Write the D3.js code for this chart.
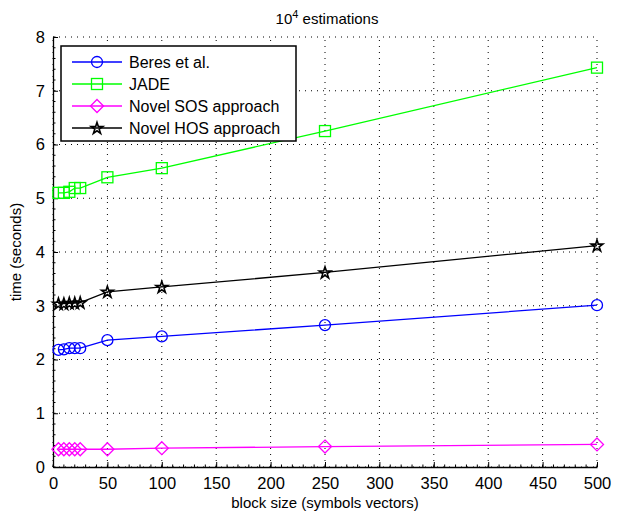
<!DOCTYPE html>
<html>
<head>
<meta charset="utf-8">
<script src="https://cdn.jsdelivr.net/npm/d3@7"></script>
<style>
  body { margin: 0; background: #fff; }
  text { font-family: "Liberation Sans", Arial, sans-serif; fill: #000; }
</style>
</head>
<body>
<svg id="chart" width="624" height="514"></svg>
<script>
var blockSizes = [5, 10, 15, 20, 25, 50, 100, 250, 500];
var beres = [2.18, 2.19, 2.21, 2.21, 2.21, 2.36, 2.43, 2.64, 3.01];
var jade  = [5.10, 5.10, 5.12, 5.19, 5.19, 5.39, 5.56, 6.25, 7.43];
var sos   = [0.33, 0.33, 0.33, 0.33, 0.33, 0.33, 0.35, 0.38, 0.42];
var hos   = [3.04, 3.04, 3.05, 3.05, 3.06, 3.26, 3.35, 3.62, 4.12];
var seriesNames = ["Beres et al.", "JADE", "Novel SOS approach", "Novel HOS approach"];
var seriesColors = ["#0000ff", "#00ff00", "#ff00ff", "#000000"];
var seriesMarkers = ["circle", "square", "diamond", "star"];
var xTicks = d3.range(0, 501, 50);
var yTicks = d3.range(0, 9, 1);

var svg = d3.select("#chart");
var plotL = 53, plotR = 597, plotT = 37, plotB = 467;

var x = d3.scaleLinear().domain([0, 500]).range([plotL, plotR]);
var y = d3.scaleLinear().domain([0, 8]).range([plotB, plotT]);

// dotted grid
var grid = svg.append("g");
grid.selectAll(".gx").data(xTicks).enter().append("line")
    .attr("x1", d => x(d)).attr("x2", d => x(d))
    .attr("y1", plotB).attr("y2", plotT)
    .style("stroke", "#000").style("stroke-width", 1)
    .style("stroke-dasharray", "1,5");
grid.selectAll(".gy").data(yTicks).enter().append("line")
    .attr("x1", plotL).attr("x2", plotR)
    .attr("y1", d => y(d)).attr("y2", d => y(d))
    .style("stroke", "#000").style("stroke-width", 1)
    .style("stroke-dasharray", "1,5");

// axes
var xAxis = svg.append("g").attr("transform", "translate(0," + plotB + ")")
    .call(d3.axisBottom(x).tickValues(xTicks).tickSizeInner(-5).tickSizeOuter(0).tickPadding(10));
var yAxis = svg.append("g").attr("transform", "translate(" + plotL + ",0)")
    .call(d3.axisLeft(y).tickValues(yTicks).tickSizeInner(-5).tickSizeOuter(0).tickPadding(8));
[xAxis, yAxis].forEach(function(a) {
    a.select(".domain").style("stroke", "#000").style("stroke-width", 1.3);
    a.selectAll(".tick line").style("stroke", "#000");
    a.selectAll("text").style("font-size", "16.5px").style("font-family", "Liberation Sans, Arial, sans-serif");
});
// minor ticks
svg.append("g").selectAll("line").data(d3.range(0, 501, 10)).enter().append("line")
    .attr("x1", d => x(d)).attr("x2", d => x(d))
    .attr("y1", plotB).attr("y2", plotB - 2.5)
    .style("stroke", "#000");
svg.append("g").selectAll("line").data(d3.range(0, 8.01, 0.2)).enter().append("line")
    .attr("x1", plotL).attr("x2", plotL + 2.5)
    .attr("y1", d => y(d)).attr("y2", d => y(d))
    .style("stroke", "#000");

// markers
function drawMarker(g, type, cx, cy, color) {
    if (type === "circle") {
        g.append("circle").attr("cx", cx).attr("cy", cy).attr("r", 5.5)
            .style("fill", "none").style("stroke", color).style("stroke-width", 1.3);
    } else if (type === "square") {
        g.append("rect").attr("x", cx - 5.5).attr("y", cy - 5.5).attr("width", 11).attr("height", 11)
            .style("fill", "none").style("stroke", color).style("stroke-width", 1.3);
    } else if (type === "diamond") {
        g.append("path").attr("d", "M" + cx + "," + (cy - 6.5) + "L" + (cx + 6.5) + "," + cy +
                "L" + cx + "," + (cy + 6.5) + "L" + (cx - 6.5) + "," + cy + "Z")
            .style("fill", "none").style("stroke", color).style("stroke-width", 1.3);
    } else {
        g.append("path").attr("d", d3.symbol(d3.symbolStar, 42)())
            .attr("transform", "translate(" + cx + "," + (cy + 0.5) + ")")
            .style("fill", "none").style("stroke", color).style("stroke-width", 1.6);
    }
}

var allSeries = [beres, jade, sos, hos];
var line = d3.line().x((d, i) => x(blockSizes[i])).y(d => y(d));
allSeries.forEach(function(vals, k) {
    var g = svg.append("g");
    g.append("path").datum(vals).attr("d", line)
        .style("fill", "none").style("stroke", seriesColors[k]).style("stroke-width", 1.3);
    vals.forEach(function(v, i) {
        drawMarker(g, seriesMarkers[k], x(blockSizes[i]), y(v), seriesColors[k]);
    });
});

// legend
var lg = svg.append("g");
lg.append("rect").attr("x", 61).attr("y", 46).attr("width", 235).attr("height", 95)
    .style("fill", "#fff").style("stroke", "#000").style("stroke-width", 1.5);
seriesNames.forEach(function(name, k) {
    var ly = 62 + k * 22;
    lg.append("line").attr("x1", 72).attr("x2", 122).attr("y1", ly).attr("y2", ly)
        .style("stroke", seriesColors[k]).style("stroke-width", 1.3);
    drawMarker(lg, seriesMarkers[k], 97, ly, seriesColors[k]);
    lg.append("text").attr("x", 129).attr("y", ly + 6).style("font-size", "16px").text(name);
});

// title and labels
var title = svg.append("text").attr("x", 327).attr("y", 24).attr("text-anchor", "middle").style("font-size", "15px");
title.append("tspan").text("10");
title.append("tspan").attr("dy", -6).style("font-size", "11px").text("4");
title.append("tspan").attr("dy", 6).text(" estimations");

svg.append("text").attr("x", 325).attr("y", 508).attr("text-anchor", "middle")
    .style("font-size", "15px").text("block size (symbols vectors)");
svg.append("text").attr("transform", "translate(21," + (plotB + plotT) / 2 + ") rotate(-90)")
    .attr("text-anchor", "middle").style("font-size", "15px").text("time (seconds)");
</script>
</body>
</html>
